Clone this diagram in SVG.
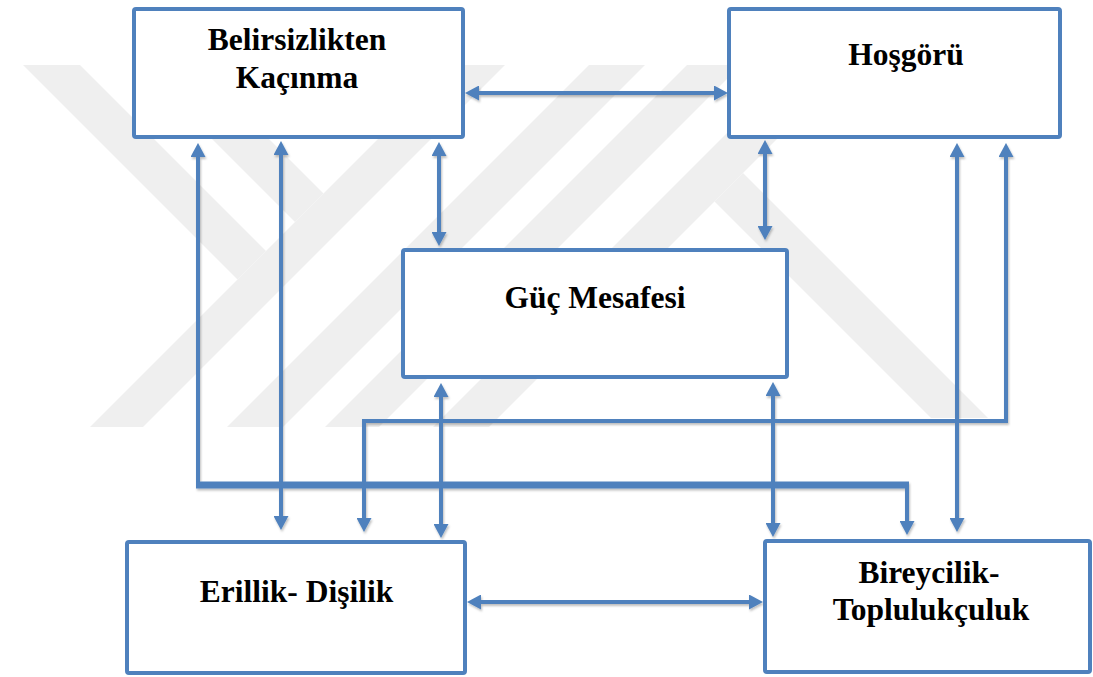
<svg xmlns="http://www.w3.org/2000/svg" width="1093" height="677" viewBox="0 0 1093 677">
  <style>
    .box { fill: #ffffff; stroke: #4F81BD; stroke-width: 4; }
    .lbl { font-family: "Liberation Serif", "Times New Roman", serif; font-weight: bold; font-size: 31.5px; fill: #000000; text-anchor: middle; }
    .con { fill: none; stroke: #4F81BD; stroke-width: 4; stroke-linejoin: miter; }
    .thick { stroke-width: 7; }
    .wm { fill: #efefef; }
  </style>
  <defs>
    <marker id="arr" markerUnits="userSpaceOnUse" markerWidth="14" markerHeight="15" refX="6" refY="7.5" orient="auto-start-reverse" viewBox="0 0 14 15">
      <path d="M0,0 L14,7.5 L0,15 Z" fill="#4F81BD"/>
    </marker>
    <filter id="sh" x="-20%" y="-20%" width="140%" height="140%">
      <feDropShadow dx="1" dy="2" stdDeviation="1.2" flood-color="#000000" flood-opacity="0.25"/>
    </filter>
  </defs>

  <rect width="1093" height="677" fill="#ffffff"/>

  <g id="watermark">
    <polygon class="wm" points="23,65 80,65 266,251 237.5,279.5"/>
    <polygon class="wm" points="138,65 195,65 323.5,193.5 295,222"/>
    <polygon class="wm" points="452,65 505,65 143,427 90,427"/>
    <polygon class="wm" points="589,65 645,65 283,427 227,427"/>
    <polygon class="wm" points="687,65 741,65 379,427 325,427"/>
    <polygon class="wm" points="795,65 851,65 489,427 433,427"/>
    <polygon class="wm" points="714.5,201.5 743,173 988,418 931,418"/>
  </g>

  <g id="connectors" filter="url(#sh)">
    <path class="con" d="M473,93 H720" marker-start="url(#arr)" marker-end="url(#arr)"/>
    <path class="con" d="M475,602 H755" marker-start="url(#arr)" marker-end="url(#arr)"/>
    <path class="con" d="M439,150 V238" marker-start="url(#arr)" marker-end="url(#arr)"/>
    <path class="con" d="M765,148 V232" marker-start="url(#arr)" marker-end="url(#arr)"/>
    <path class="con" d="M441,391 V530" marker-start="url(#arr)" marker-end="url(#arr)"/>
    <path class="con" d="M773,390 V529" marker-start="url(#arr)" marker-end="url(#arr)"/>
    <path class="con" d="M281,149 V522" marker-start="url(#arr)" marker-end="url(#arr)"/>
    <path class="con" d="M957,151 V524" marker-start="url(#arr)" marker-end="url(#arr)"/>
    <path class="con" d="M198,151 V485" marker-start="url(#arr)"/>
    <path class="con thick" d="M196,485 H909"/>
    <path class="con" d="M907,485 V527" marker-end="url(#arr)"/>
    <path class="con" d="M1006,151 V421 H364 V524" marker-start="url(#arr)" marker-end="url(#arr)"/>
  </g>

  <g id="node-belirsizlik">
    <rect class="box" x="134" y="9" width="329" height="128" rx="2"/>
    <text class="lbl" x="297" y="50">Belirsizlikten</text>
    <text class="lbl" x="297" y="88">Kaçınma</text>
  </g>
  <g id="node-hosgoru">
    <rect class="box" x="729" y="9" width="331" height="128" rx="2"/>
    <text class="lbl" x="906" y="65">Hoşgörü</text>
  </g>
  <g id="node-guc">
    <rect class="box" x="403" y="250" width="384" height="127" rx="2"/>
    <text class="lbl" x="595" y="308">Güç Mesafesi</text>
  </g>
  <g id="node-erillik">
    <rect class="box" x="127" y="542" width="338" height="131" rx="2"/>
    <text class="lbl" x="296.5" y="602">Erillik- Dişilik</text>
  </g>
  <g id="node-bireycilik">
    <rect class="box" x="765" y="541" width="325" height="131" rx="2"/>
    <text class="lbl" x="929" y="583">Bireycilik-</text>
    <text class="lbl" x="931" y="620">Toplulukçuluk</text>
  </g>
</svg>
